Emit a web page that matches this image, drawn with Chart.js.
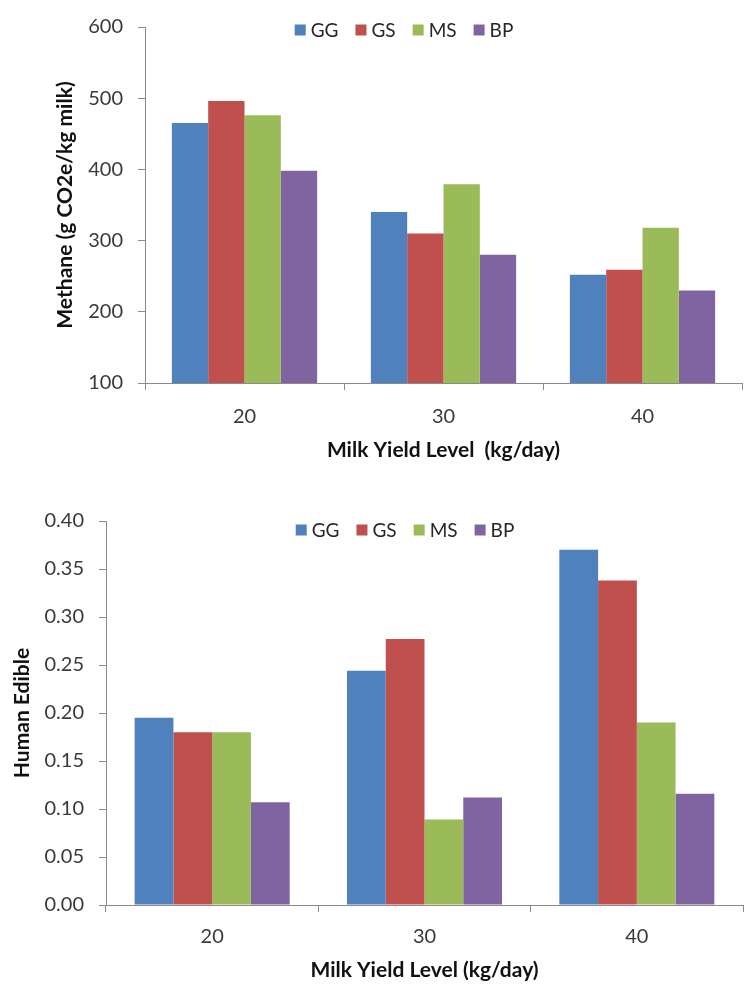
<!DOCTYPE html>
<html><head><meta charset="utf-8">
<script src="https://cdn.jsdelivr.net/npm/chart.js@4"></script>
<style>
html,body{margin:0;padding:0;background:#fff;width:749px;height:990px;overflow:hidden}
#c1{position:absolute;left:0;top:0}
#c2{position:absolute;left:0;top:490px}
</style></head><body>
<canvas id="c1" width="749" height="485"></canvas>
<canvas id="c2" width="749" height="500"></canvas>
<script>
const categories = ['20', '30', '40'];
const seriesNames = ['GG', 'GS', 'MS', 'BP'];
const seriesColors = ['#4F81BD', '#C0504D', '#9BBB59', '#8064A2'];

const methaneGG = [465, 340, 252];
const methaneGS = [496, 310, 259];
const methaneMS = [476, 379, 318];
const methaneBP = [398, 280, 230];

const edibleGG = [0.195, 0.244, 0.370];
const edibleGS = [0.180, 0.277, 0.338];
const edibleMS = [0.180, 0.089, 0.190];
const edibleBP = [0.107, 0.112, 0.116];

const methaneAxis = { min: 100, max: 600, step: 100, decimals: 0 };
const edibleAxis = { min: 0, max: 0.40, step: 0.05, decimals: 2 };

const methaneYTitle = 'Methane (g CO2e/kg milk)';
const methaneXTitle = 'Milk Yield Level  (kg/day)';
const edibleYTitle = 'Human Edible';
const edibleXTitle = 'Milk Yield Level (kg/day)';

const FONT = 'Lato, "Open Sans", "DejaVu Sans", sans-serif';
const AXIS_COLOR = '#8a8a8a';

const xlLegend = {
  id: 'xlLegend',
  afterDraw(chart, args, opts) {
    const ctx = chart.ctx;
    ctx.save();
    ctx.font = opts.font;
    const box = 11, gap = 5, spacing = 17;
    const items = chart.data.datasets.map(d => ({ text: d.label, color: d.backgroundColor, w: ctx.measureText(d.label).width }));
    const total = items.reduce((s, i) => s + box + gap + i.w, 0) + spacing * (items.length - 1);
    let x = opts.centerX - total / 2;
    ctx.textBaseline = 'middle';
    ctx.textAlign = 'left';
    items.forEach(it => {
      ctx.fillStyle = it.color;
      ctx.fillRect(x, opts.y - box / 2, box, box);
      x += box + gap;
      ctx.fillStyle = '#262626';
      ctx.fillText(it.text, x, opts.y + 1);
      x += it.w + spacing;
    });
    ctx.restore();
  }
};

function makeDatasets(arrs) {
  return seriesNames.map((n, i) => ({
    label: n,
    data: arrs[i],
    backgroundColor: seriesColors[i],
    borderWidth: 0,
    categoryPercentage: 0.73,
    barPercentage: 1.0
  }));
}

function makeOptions(c) {
  return {
    responsive: false,
    animation: false,
    devicePixelRatio: 1,
    layout: { padding: c.padding },
    plugins: {
      legend: { display: false },
      tooltip: { enabled: false },
      xlLegend: { font: '19px ' + FONT, centerX: c.legendX, y: c.legendY }
    },
    scales: {
      x: {
        type: 'category',
        offset: true,
        grid: { offset: true, drawOnChartArea: false, tickLength: 7, color: AXIS_COLOR },
        border: { color: AXIS_COLOR, width: 1 },
        ticks: { color: '#3a3a3a', font: { family: FONT, size: 20 }, padding: c.xTickPad },
        title: { display: true, text: c.xTitle, color: '#111', font: { family: FONT, size: 21, weight: 'bold' }, padding: { top: 0, bottom: c.xTitlePad } },
        afterFit(scale) { scale.height = c.xHeight; }
      },
      y: {
        min: c.axis.min, max: c.axis.max,
        grid: { drawOnChartArea: false, tickLength: 7, color: AXIS_COLOR },
        border: { color: AXIS_COLOR, width: 1 },
        ticks: {
          stepSize: c.axis.step, color: '#3a3a3a', padding: 15,
          font: { family: FONT, size: 20 },
          callback: v => Number(v).toFixed(c.axis.decimals)
        },
        title: { display: true, text: c.yTitle, color: '#111', font: { family: FONT, size: 21, weight: 'bold' }, padding: { top: c.yTitlePad, bottom: 0 } },
        afterFit(scale) { scale.width = c.yWidth; }
      }
    }
  };
}

new Chart(document.getElementById('c1'), {
  type: 'bar',
  data: { labels: categories, datasets: makeDatasets([methaneGG, methaneGS, methaneMS, methaneBP]) },
  options: makeOptions({
    axis: methaneAxis, yTitle: methaneYTitle, xTitle: methaneXTitle,
    padding: { left: 0, right: 7, top: 20, bottom: 0 },
    yWidth: 145, xHeight: 102, xTickPad: 15, xTitlePad: 22, yTitlePad: 53,
    legendX: 404, legendY: 30
  }),
  plugins: [xlLegend]
});

new Chart(document.getElementById('c2'), {
  type: 'bar',
  data: { labels: categories, datasets: makeDatasets([edibleGG, edibleGS, edibleMS, edibleBP]) },
  options: makeOptions({
    axis: edibleAxis, yTitle: edibleYTitle, xTitle: edibleXTitle,
    padding: { left: 0, right: 6, top: 31, bottom: 0 },
    yWidth: 106, xHeight: 85, xTickPad: 13, xTitlePad: 7, yTitlePad: 10,
    legendX: 405, legendY: 40
  }),
  plugins: [xlLegend]
});
</script>
</body></html>
